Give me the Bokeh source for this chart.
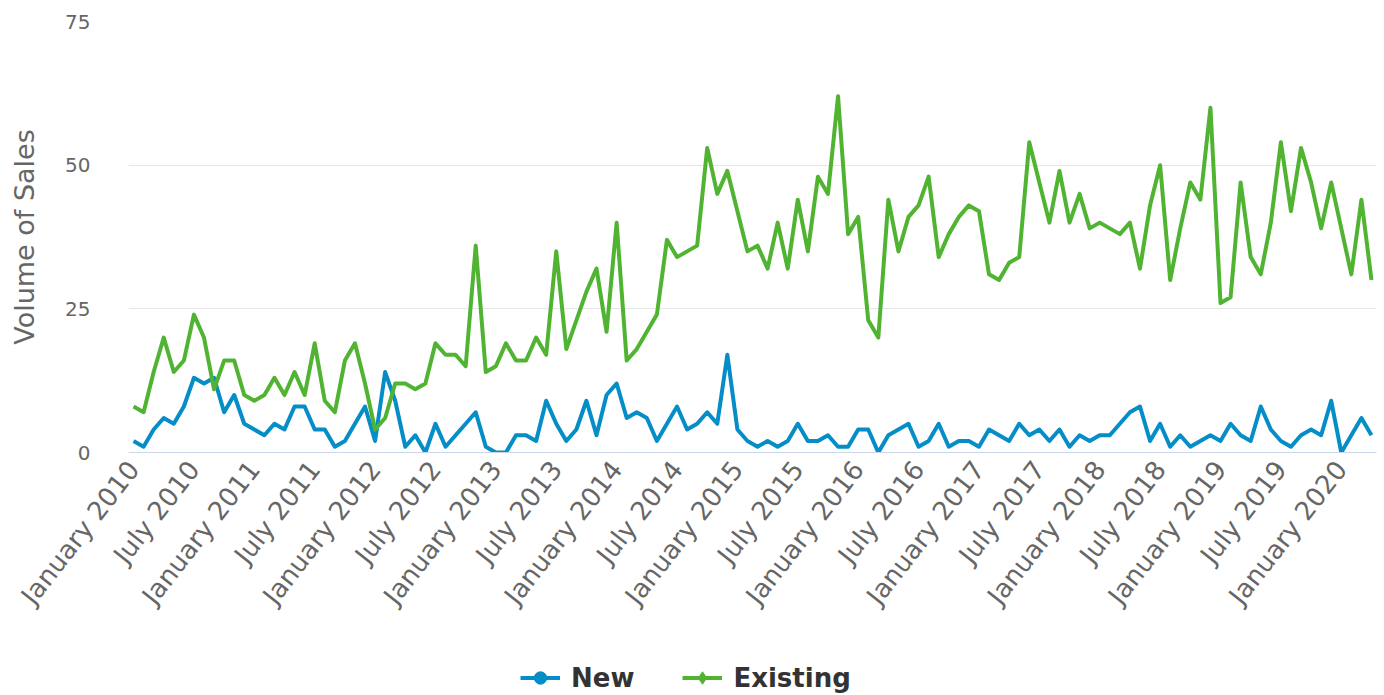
import math
from bokeh.plotting import figure
from bokeh.layouts import column
from bokeh.models import FixedTicker, Legend, LegendItem, Range1d
from bokeh.embed import file_html
from bokeh.resources import INLINE

tick_labels = [
    "January 2010", "July 2010", "January 2011", "July 2011", "January 2012",
    "July 2012", "January 2013", "July 2013", "January 2014", "July 2014",
    "January 2015", "July 2015", "January 2016", "July 2016", "January 2017",
    "July 2017", "January 2018", "July 2018", "January 2019", "July 2019",
    "January 2020",
]

new_sales = [
    2, 1, 4, 6, 5, 8, 13, 12, 13, 7, 10, 5, 4, 3, 5, 4, 8, 8, 4, 4, 1, 2, 5, 8,
    2, 14, 9, 1, 3, 0, 5, 1, 3, 5, 7, 1, 0, 0, 3, 3, 2, 9, 5, 2, 4, 9, 3, 10,
    12, 6, 7, 6, 2, 5, 8, 4, 5, 7, 5, 17, 4, 2, 1, 2, 1, 2, 5, 2, 2, 3, 1, 1,
    4, 4, 0, 3, 4, 5, 1, 2, 5, 1, 2, 2, 1, 4, 3, 2, 5, 3, 4, 2, 4, 1, 3, 2,
    3, 3, 5, 7, 8, 2, 5, 1, 3, 1, 2, 3, 2, 5, 3, 2, 8, 4, 2, 1, 3, 4, 3, 9, 0, 3, 6, 3,
]

existing_sales = [
    8, 7, 14, 20, 14, 16, 24, 20, 11, 16, 16, 10, 9, 10, 13, 10, 14, 10, 19, 9, 7, 16, 19, 12,
    4, 6, 12, 12, 11, 12, 19, 17, 17, 15, 36, 14, 15, 19, 16, 16, 20, 17, 35, 18, 23, 28, 32, 21,
    40, 16, 18, 21, 24, 37, 34, 35, 36, 53, 45, 49, 42, 35, 36, 32, 40, 32, 44, 35, 48, 45, 62, 38,
    41, 23, 20, 44, 35, 41, 43, 48, 34, 38, 41, 43, 42, 31, 30, 33, 34, 54, 47, 40, 49, 40, 45, 39,
    40, 39, 38, 40, 32, 43, 50, 30, 39, 47, 44, 60, 26, 27, 47, 34, 31, 40, 54, 42, 53, 47, 39, 47, 39, 31, 44, 30,
]

series_names = ["New", "Existing"]
y_ticks = [0, 25, 50, 75]

x = list(range(len(new_sales)))
FONT = "DejaVu Sans"
BLUE = "#058DC7"
GREEN = "#50B432"
LW = 4

p = figure(width=1384, height=640, output_backend="svg", toolbar_location=None,
           x_range=Range1d(-0.5, len(x) - 0.5), y_range=Range1d(0, 75),
           min_border_top=21, min_border_right=8, min_border_left=128,
           min_border_bottom=188)
p.outline_line_color = None

p.line(x, new_sales, line_color=BLUE, line_width=LW, line_join="round")
p.line(x, existing_sales, line_color=GREEN, line_width=LW, line_join="round")

# x axis
p.xaxis.ticker = FixedTicker(ticks=list(range(0, len(x), 6)))
p.xaxis.major_label_overrides = {i * 6: lab for i, lab in enumerate(tick_labels)}
p.xaxis.major_label_orientation = math.radians(52)
p.xaxis.major_tick_line_color = None
p.xaxis.minor_tick_line_color = None
p.xaxis.axis_line_color = "#ccd6eb"
p.xaxis.axis_line_width = 1
p.xaxis.major_label_text_color = "#666666"
p.xaxis.major_label_text_font = FONT
p.xaxis.major_label_text_font_size = "26px"
p.xaxis.major_label_standoff = 6
p.xgrid.grid_line_color = None

# y axis
p.yaxis.ticker = FixedTicker(ticks=y_ticks)
p.yaxis.axis_line_color = None
p.yaxis.major_tick_line_color = None
p.yaxis.minor_tick_line_color = None
p.yaxis.major_label_text_color = "#666666"
p.yaxis.major_label_text_font = FONT
p.yaxis.major_label_text_font_size = "20px"
p.yaxis.major_label_standoff = 32
p.yaxis.axis_label = "Volume of Sales"
p.yaxis.axis_label_text_font = FONT
p.yaxis.axis_label_text_font_style = "normal"
p.yaxis.axis_label_text_font_size = "27px"
p.yaxis.axis_label_text_color = "#666666"
p.yaxis.axis_label_standoff = 22
p.ygrid.grid_line_color = "#e6e6e6"
p.ygrid.grid_line_width = 1

# legend strip (its own renderers use the same series; their data lie outside
# this strip's visible range so only the legend swatches show)
lg = figure(width=1384, height=55, output_backend="svg", toolbar_location=None,
            x_range=Range1d(-0.5, len(x) - 0.5), y_range=Range1d(-200, -100),
            x_axis_location=None, y_axis_location=None,
            min_border=0)
lg.outline_line_color = None
lg.grid.grid_line_color = None
l_new = lg.line(x, new_sales, line_color=BLUE, line_width=LW)
s_new = lg.scatter(x, new_sales, marker="circle", fill_color=BLUE, line_color=BLUE)
l_ex = lg.line(x, existing_sales, line_color=GREEN, line_width=LW)
s_ex = lg.scatter(x, existing_sales, marker="diamond", fill_color=GREEN, line_color=GREEN)

legend = Legend(items=[LegendItem(label=series_names[0], renderers=[l_new, s_new]),
                       LegendItem(label=series_names[1], renderers=[l_ex, s_ex])],
                orientation="horizontal", location=(392, 2))
legend.label_text_font = FONT
legend.label_text_font_size = "26px"
legend.label_text_font_style = "bold"
legend.label_text_color = "#333333"
legend.glyph_width = 40
legend.glyph_height = 31
legend.label_standoff = 11
legend.spacing = 48
legend.padding = 0
legend.margin = 0
legend.border_line_color = None
legend.background_fill_alpha = 0
lg.add_layout(legend, "center")

layout = column(p, lg, spacing=0)
open("out.html", "w").write(file_html(layout, INLINE))
